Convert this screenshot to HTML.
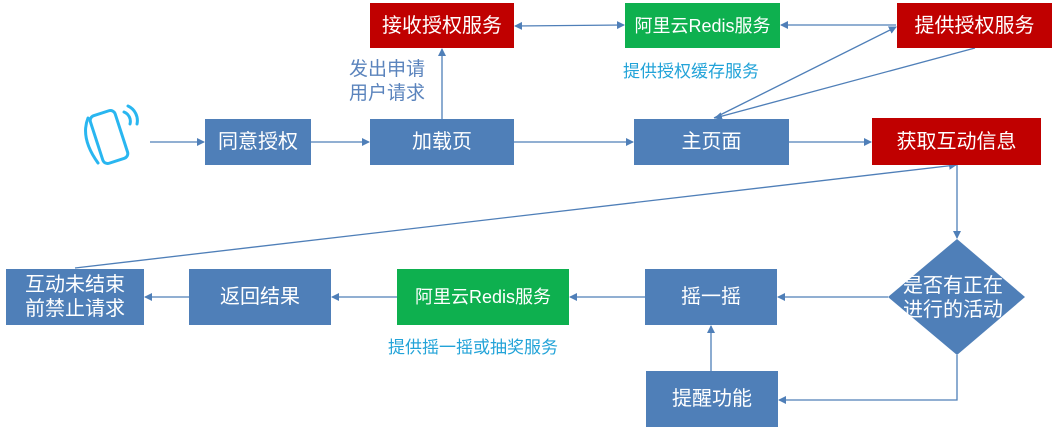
<!DOCTYPE html>
<html><head><meta charset="utf-8"><style>
body{margin:0;width:1056px;height:434px;background:#fff;overflow:hidden;position:relative;font-family:"Liberation Sans","Noto Sans CJK SC",sans-serif}
.b{position:absolute;color:#fff;display:flex;align-items:center;justify-content:center;font-size:20px;text-align:center;line-height:24px}
.bl{background:#4f7fb8}.r{background:#c00000}.g{background:#0eb04f;font-size:18px}
.t{position:absolute;font-size:17px;line-height:22px}
</style></head><body>
<svg width="1056" height="434" style="position:absolute;left:0;top:0">
<defs><marker id="a" markerWidth="8" markerHeight="8" refX="7" refY="4" orient="auto" markerUnits="userSpaceOnUse"><path d="M0,0 L8,4 L0,8z" fill="#4f7fb8"/></marker>
<marker id="s" markerWidth="8" markerHeight="8" refX="1" refY="4" orient="auto" markerUnits="userSpaceOnUse"><path d="M8,0 L0,4 L8,8z" fill="#4f7fb8"/></marker></defs>
<g stroke="#4f7fb8" stroke-width="1.3" fill="none">
<line x1="150" y1="142" x2="204" y2="142" marker-end="url(#a)"/>
<line x1="311" y1="142" x2="369" y2="142" marker-end="url(#a)"/>
<line x1="514" y1="142" x2="633" y2="142" marker-end="url(#a)"/>
<line x1="789" y1="142" x2="871" y2="142" marker-end="url(#a)"/>
<line x1="442" y1="119" x2="442" y2="49" marker-end="url(#a)"/>
<line x1="515" y1="26" x2="624" y2="25" marker-start="url(#s)" marker-end="url(#a)"/>
<line x1="781" y1="25" x2="896" y2="25" marker-start="url(#s)"/>
<line x1="714" y1="118" x2="896" y2="27" marker-end="url(#a)"/>
<line x1="975" y1="48" x2="715" y2="118" marker-end="url(#a)"/>
<line x1="75" y1="268" x2="956" y2="165" marker-end="url(#a)"/>
<line x1="957" y1="165" x2="957" y2="238" marker-end="url(#a)"/>
<line x1="888" y1="297" x2="778" y2="297" marker-end="url(#a)"/>
<line x1="645" y1="297" x2="570" y2="297" marker-end="url(#a)"/>
<line x1="397" y1="297" x2="332" y2="297" marker-end="url(#a)"/>
<line x1="189" y1="297" x2="145" y2="297" marker-end="url(#a)"/>
<polyline points="957,355 957,400 779,400" marker-end="url(#a)"/>
<line x1="711" y1="371" x2="711" y2="326" marker-end="url(#a)"/>
</g>
<polygon points="957,239 1025,297 957,355 888,297" fill="#4f7fb8"/>
<g stroke="#29b6f0" stroke-width="3" fill="none" stroke-linecap="round">
<rect x="96" y="112" width="26" height="50" rx="5" transform="rotate(-18 109 137)"/>
<path d="M88 118 q-8 20 10 45 M124 112 a10 10 0 0 1 6 12 M128 106 a16 16 0 0 1 9 18"/>
</g>
</svg>
<div class="b r" style="left:370px;top:3px;width:144px;height:45px">接收授权服务</div>
<div class="b g" style="left:625px;top:3px;width:155px;height:45px">阿里云Redis服务</div>
<div class="b r" style="left:897px;top:3px;width:155px;height:45px">提供授权服务</div>
<div class="t" style="left:623px;top:61px;color:#22a3d8">提供授权缓存服务</div>
<div class="t" style="left:349px;top:58px;color:#5b84bd;font-size:19px;line-height:24px">发出申请<br>用户请求</div>
<div class="b" style="left:903px;top:274px;width:117px;height:48px;justify-content:flex-start;white-space:nowrap;overflow:hidden;font-size:20px;text-align:left">是否有正在<br>进行的活动</div>
<div class="b bl" style="left:205px;top:119px;width:106px;height:46px">同意授权</div>
<div class="b bl" style="left:370px;top:119px;width:144px;height:46px">加载页</div>
<div class="b bl" style="left:634px;top:119px;width:155px;height:46px">主页面</div>
<div class="b r" style="left:872px;top:118px;width:169px;height:47px">获取互动信息</div>
<div class="b bl" style="left:645px;top:269px;width:132px;height:56px">摇一摇</div>
<div class="b bl" style="left:646px;top:371px;width:132px;height:56px">提醒功能</div>
<div class="b g" style="left:397px;top:269px;width:172px;height:56px">阿里云Redis服务</div>
<div class="t" style="left:388px;top:337px;color:#22a3d8">提供摇一摇或抽奖服务</div>
<div class="b bl" style="left:189px;top:269px;width:142px;height:56px">返回结果</div>
<div class="b bl" style="left:6px;top:269px;width:138px;height:56px">互动未结束<br>前禁止请求</div>
</body></html>
